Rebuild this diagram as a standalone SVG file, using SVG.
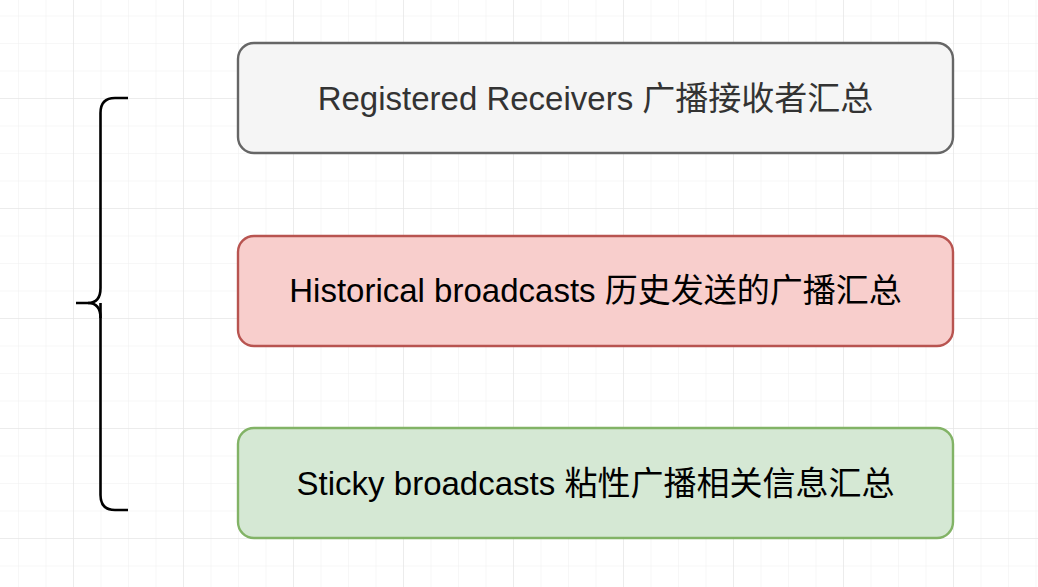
<svg xmlns="http://www.w3.org/2000/svg" width="1038" height="587" viewBox="0 0 1038 587">
<defs>
<pattern id="minor" x="18" y="15.5" width="27.5" height="27.5" patternUnits="userSpaceOnUse">
<path d="M0 0V27.5M0 0H27.5" fill="none" stroke="#f0f0f0" stroke-width="1"/>
</pattern>
<pattern id="major" x="73" y="98" width="110" height="110" patternUnits="userSpaceOnUse">
<path d="M0 0V110M0 0H110" fill="none" stroke="#e2e2e2" stroke-width="1"/>
</pattern>
</defs>
<style>
.box{stroke-width:2.4}
.lbl{font-family:"Liberation Sans","Noto Sans CJK SC",sans-serif;font-size:33px;text-anchor:middle}
</style>
<rect width="1038" height="587" fill="#ffffff"/>
<rect width="1038" height="587" fill="url(#minor)"/>
<rect width="1038" height="587" fill="url(#major)"/>
<g id="brace">
<path d="M128 98H115Q100.5 98 100.5 113V288Q100.5 303 88 303H76M100.5 303Q100.5 303 100.5 318V495Q100.5 510 115 510H128" fill="none" stroke="#000000" stroke-width="2.6"/>
<path d="M88 303Q100.5 303 100.5 318" fill="none" stroke="#000000" stroke-width="2.6"/>
</g>
<g id="connectors"></g>
<g id="node-receivers">
<rect class="box" x="238" y="43" width="715" height="110" rx="16" fill="#f5f5f5" stroke="#666666"/>
<text class="lbl" x="595.5" y="109.5" fill="#333333">Registered Receivers 广播接收者汇总</text>
</g>
<g id="node-historical">
<rect class="box" x="238" y="236" width="715" height="110" rx="16" fill="#f8cecc" stroke="#b85450"/>
<text class="lbl" x="595.5" y="301.5" fill="#000000">Historical broadcasts 历史发送的广播汇总</text>
</g>
<g id="node-sticky">
<rect class="box" x="238" y="428" width="715" height="110" rx="16" fill="#d5e8d4" stroke="#82b366"/>
<text class="lbl" x="595.5" y="494.5" fill="#000000">Sticky broadcasts 粘性广播相关信息汇总</text>
</g>
</svg>
